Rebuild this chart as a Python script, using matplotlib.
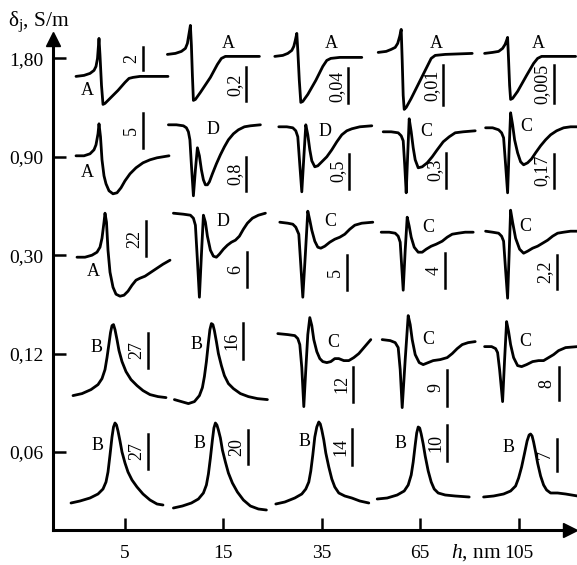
"""
Line shapes on a conductivity / film thickness grid.
"""

import matplotlib.pyplot as plt


plt.rcParams["font.family"] = "Liberation Serif"
plt.rcParams["mathtext.fontset"] = "custom"
plt.rcParams["mathtext.rm"] = "Liberation Serif"
plt.rcParams["mathtext.it"] = "Liberation Serif:italic"

THICKNESS = ["5", "15", "35", "65", "105"]
CONDUCTIVITY = ["1,80", "0,90", "0,30", "0,12", "0,06"]  # top row first

LINE_TYPE = [
    ["A", "A", "A", "A", "A"],
    ["A", "D", "D", "C", "C"],
    ["A", "D", "C", "C", "C"],
    ["B", "B", "C", "C", "C"],
    ["B", "B", "B", "B", "B"],
]

SCALE = [
    ["2", "0,2", "0,04", "0,01", "0,005"],
    ["5", "0,8", "0,5", "0,3", "0,17"],
    ["22", "6", "5", "4", "2,2"],
    ["27", "16", "12", "9", "8"],
    ["27", "20", "14", "10", "7"],
]

# traces: (x, y) offsets in px from the grid node, y up
ROW_180 = [
    ([-49, -41, -35, -31, -29, -27.5, -26, -25, -23.5, -22, -20, -15, -7, 0, 4, 8, 15, 43],
     [-18, -17, -15, -12, -8, 0, 20, 3, -27, -46, -45, -40, -32, -24, -20, -19, -18, -18]),
    ([-56, -48, -42, -38, -36, -34.5, -33, -32, -31, -30, -28, -23, -13, -6, -2, 2, 12, 36],
     [4, 5, 7, 10, 15, 24, 33, 13, -17, -42, -41, -34, -19, -6, 0, 2, 2, 2]),
    ([-47, -39, -34, -30, -28, -26.5, -25, -24, -22.5, -21, -19, -14, -6, 1, 5, 9, 18, 40],
     [2, 3, 5, 8, 12, 18, 25, 8, -22, -44, -43, -36, -22, -8, -2, 0, 1, 1]),
    ([-42, -34, -29, -25, -22.5, -20.5, -19, -18, -17, -16, -14, -9, 0, 7, 11, 15, 25, 52],
     [6, 7, 9, 11, 15, 22, 29, -2, -37, -51, -49, -40, -22, -8, 0, 3, 4, 5]),
    ([-34, -26, -20, -16, -13.5, -12, -11, -10, -9, -8, -6, -1, 8, 15, 19, 23, 32, 57],
     [5, 6, 7, 10, 14, 18, 21, -2, -27, -41, -40, -33, -17, -5, 0, 2, 2, 2]),
]

ROW_090 = [
    ([-49, -41, -35, -31, -29, -27, -26, -24.5, -23, -21, -19, -16, -12, -8, -4, 0,
      5, 11, 18, 25, 32, 38, 44],
     [1, 1, 3, 7, 12, 23, 33, 20, -3, -19, -27, -34, -37, -36, -31, -24,
      -17, -11, -6, -3, -1, 0, 1]),
    ([-55, -47, -40, -37, -35, -33.5, -32, -30, -28, -26, -24, -22, -20, -18, -16, -14,
      -11, -7, -3, 1, 5, 10, 15, 21, 27, 37],
     [32, 32, 31, 29, 25, 17, -8, -39, -13, 9, 1, -13, -23, -28, -28, -25,
      -17, -7, 2, 10, 17, 23, 27, 30, 31, 32]),
    ([-43, -35, -29, -26, -24, -22, -20, -18, -16, -14, -12, -10, -7, -4, 0, 5,
      10, 15, 20, 25, 30, 38, 50],
     [30, 30, 29, 26, 20, -8, -35, -1, 32, 22, 7, -4, -10, -9, -5, 0,
      7, 15, 22, 26, 28, 30, 31]),
    ([-37, -29, -22, -19, -17, -15.5, -14, -12.5, -11, -9, -7, -5, -2, 2, 7, 12,
      17, 23, 29, 35, 43, 55],
     [25, 25, 24, 21, 16, -8, -36, 2, 38, 25, 9, -3, -11, -10, -6, 0,
      7, 15, 20, 24, 25, 26]),
    ([-33, -26, -20, -17, -15, -13, -11, -9.5, -8, -6, -4, -1, 2, 5, 9, 13,
      17, 22, 27, 32, 38, 45, 52, 59],
     [29, 29, 27, 24, 19, -8, -36, 7, 44, 32, 17, 4, -5, -8, -6, -2,
      4, 11, 17, 22, 26, 29, 30, 30]),
]

ROW_030 = [
    ([-48, -40, -33, -28, -25, -23, -21, -20, -18.5, -17, -15, -12, -9, -5, -1, 3,
      7, 11, 15, 20, 26, 32, 38, 45],
     [-2, -2, 0, 3, 8, 17, 33, 42, 33, 5, -17, -32, -39, -41, -40, -36,
      -30, -25, -23, -21, -17, -13, -9, -5]),
    ([-50, -40, -33, -30, -28, -26, -24, -22, -20, -18, -16, -13, -10, -7, -4, 0,
      4, 8, 12, 16, 20, 24, 29, 35, 42],
     [42, 41, 40, 37, 30, -5, -42, 0, 40, 33, 19, 5, -1, -2, 1, 6,
      10, 13, 15, 19, 26, 32, 37, 40, 42]),
    ([-42, -34, -29, -26, -23, -21, -19, -16.5, -14, -12, -10, -7, -4, -1, 3, 8,
      13, 18, 23, 28, 33, 40, 51],
     [33, 32, 31, 28, 21, -10, -42, 0, 44, 35, 25, 14, 8, 7, 9, 13,
      16, 18, 21, 26, 30, 32, 33]),
    ([-39, -31, -25, -22, -20, -17, -15, -13, -11, -9, -6, -2, 2, 6, 11, 16,
      22, 27, 32, 38, 45, 53],
     [23, 23, 22, 19, 13, -35, 5, 38, 29, 18, 8, 3, 3, 6, 9, 11,
      14, 18, 21, 22, 23, 23]),
    ([-33, -26, -20, -17, -15, -13, -11, -9.5, -8, -6, -3, 1, 5, 9, 14, 19,
      24, 29, 34, 39, 45, 52, 59],
     [24, 23, 22, 19, 14, -15, -43, 0, 45, 33, 17, 6, 2, 4, 7, 9,
      12, 15, 19, 22, 23, 24, 24]),
]

ROW_012 = [
    ([-52, -43, -34, -27, -23, -20, -18, -16, -14.5, -13, -11.5, -10, -8, -6, -3, 1,
      6, 12, 18, 25, 33, 41],
     [-42, -40, -36, -31, -25, -16, -4, 10, 21, 28, 29, 24, 14, 3, -8, -18,
      -26, -32, -37, -41, -43, -44]),
    ([-49, -42, -35, -29, -24, -21, -19, -17, -15, -13.5, -12, -10.5, -9, -7, -5, -2,
      1, 5, 10, 17, 25, 34, 44],
     [-46, -48, -50, -48, -42, -34, -23, -8, 11, 24, 30, 29, 23, 12, 0, -12,
      -22, -30, -35, -40, -43, -45, -46]),
    ([-44, -34, -27, -24, -22, -20, -18, -16, -14, -12, -10, -8, -5, -2, 1, 5,
      9, 13, 17, 22, 27, 32, 37, 43, 49],
     [20, 19, 18, 15, 9, -14, -53, -16, 19, 36, 28, 14, 2, -5, -8, -9,
      -8, -5, -5, -7, -7, -4, 0, 7, 14]),
    ([-38, -30, -25, -22, -20, -18, -15, -12, -10, -8, -5, -1, 3, 8, 13, 20,
      27, 32, 37, 42, 48, 55],
     [14, 13, 11, 6, -16, -54, -6, 38, 29, 14, -1, -9, -11, -9, -7, -6,
      -4, 0, 5, 9, 11, 12]),
    ([-34, -27, -23, -21, -19, -16, -14, -12, -10, -8, -5, -1, 3, 8, 14, 20,
      25, 30, 35, 40, 47, 59],
     [7, 7, 5, 1, -16, -48, -6, 32, 22, 9, -4, -12, -13, -11, -8, -7,
      -7, -4, -1, 3, 6, 7]),
]

ROW_006 = [
    ([-54, -45, -35, -27, -22, -19, -17, -15, -13, -11.5, -10, -8.5, -7, -5, -3, 0,
      3, 7, 12, 18, 25, 32, 38],
     [-51, -49, -46, -42, -37, -30, -20, -3, 15, 25, 29, 27, 21, 11, 0, -11,
      -20, -28, -35, -42, -48, -52, -53]),
    ([-50, -41, -32, -25, -20, -17, -15, -13, -11, -9.5, -8, -6.5, -5, -3, -1, 2,
      5, 9, 14, 20, 27, 35, 43],
     [-56, -54, -51, -47, -41, -33, -22, -6, 12, 24, 29, 27, 22, 14, 2, -10,
      -21, -31, -40, -48, -54, -57, -58]),
    ([-46, -37, -27, -20, -16, -13, -11, -9, -7, -5, -3, -1.5, 0, 2, 4, 7,
      10, 13, 17, 23, 30, 38, 47],
     [-52, -50, -46, -42, -37, -30, -19, -3, 15, 25, 30, 28, 22, 12, -1, -15,
      -27, -35, -41, -44, -46, -49, -51]),
    ([-43, -33, -23, -16, -12, -9, -7, -5, -3.5, -2, -0.5, 1, 3, 5, 8, 11,
      14, 18, 25, 35, 49],
     [-47, -46, -43, -39, -33, -23, -10, 7, 19, 25, 24, 18, 8, -4, -19, -30,
      -37, -41, -43, -44, -45]),
    ([-35, -25, -15, -8, -3, 0, 3, 6, 8.5, 10.5, 12, 13.5, 15, 17, 19, 22,
      25, 28, 32, 39, 47, 59],
     [-45, -44, -42, -39, -34, -26, -15, -1, 11, 17, 18, 16, 10, 0, -11, -24,
      -33, -38, -41, -41, -42, -44]),
]

ROWS = [ROW_180, ROW_090, ROW_030, ROW_012, ROW_006]

# layout: letter (dx, dy) and scale bar (dx, top, bottom), px from the node
LETTER_POS = [
    [(-38, -32), (5, 15), (10, 15), (16, 15), (20, 15)],
    [(-38, -16), (-10, 27), (3, 25), (6, 25), (8, 30)],
    [(-32, -16), (0, 34), (8, 34), (8, 28), (7, 29)],
    [(-28, 6), (-27, 9), (11, 11), (8, 14), (7, 12)],
    [(-27, 7), (-24, 9), (-17, 10), (-20, 9), (-10, 4)],
]

BAR_POS = [
    [(18, 11, -12), (23, -9, -43), (26, -10, -45), (23, -7, -47), (35, -7, -45)],
    [(18, 44, 9), (23, 0, -34), (27, 3, -32), (26, 4, -31), (35, 3, -31)],
    [(21, 34, -1), (24, 3, -32), (25, 0, -35), (25, 2, -33), (38, 0, -34)],
    [(23, 21, -14), (20, 31, -5), (31, -13, -48), (27, -16, -52), (40, -13, -46)],
    [(23, 18, -17), (25, 22, -12), (30, 23, -13), (27, 27, -9), (38, 13, -19)],
]

PX = 98.4  # pixels per grid step


def setup_axes(fig):
    """
    Axes with arrowed left/bottom spines and inward ticks.
    """

    ax = fig.add_axes([53 / 577, 35 / 565, 517 / 577, 491.5 / 565])

    ax.set_xlim(-72 / PX, 445 / PX)
    ax.set_ylim(-78 / PX, 413.5 / PX)

    ax.set_xticks(range(len(THICKNESS)), THICKNESS)
    ax.set_yticks(range(len(CONDUCTIVITY)), CONDUCTIVITY[::-1])

    for side in ["top", "right"]:
        ax.spines[side].set_visible(False)
    for side in ["left", "bottom"]:
        ax.spines[side].set_linewidth(2.2)

    ax.tick_params(
        direction="in",
        length=9,
        width=1.8,
        labelsize=14,
    )
    ax.tick_params(axis="y", pad=7)
    ax.tick_params(axis="x", pad=11)

    ax.plot(1, 0, ">k", ms=9.5, transform=ax.transAxes, clip_on=False)
    ax.plot(0, 1, "^k", ms=9.5, transform=ax.transAxes, clip_on=False)

    ax.set_ylabel(
        "δ$_\\mathrm{j}$, S/m",
        rotation=0,
        ha="left",
        va="baseline",
        fontsize=15.5,
    )
    ax.yaxis.set_label_coords(-45 / 517, (530 - 26) / 491.5)

    ax.set_xlabel(
        "$h$, nm",
        ha="right",
        va="baseline",
        fontsize=15.5,
    )
    ax.xaxis.set_label_coords((502 - 53) / 517, (530 - 558) / 491.5)

    return ax


def draw_cells(ax):
    """
    Trace, letter and scale bar for every grid node.
    """

    n_rows = len(ROWS)

    for r, row in enumerate(ROWS):
        y0 = n_rows - 1 - r

        for c, (xs, ys) in enumerate(row):
            ax.plot(
                [c + x / PX for x in xs],
                [y0 + y / PX for y in ys],
                color="black",
                linewidth=2.0,
                solid_joinstyle="round",
                solid_capstyle="round",
                clip_on=False,
            )

            dx, dy = LETTER_POS[r][c]
            ax.text(
                c + dx / PX,
                y0 + dy / PX,
                LINE_TYPE[r][c],
                ha="center",
                va="center",
                fontsize=13,
            )

            bx, top, bottom = BAR_POS[r][c]
            ax.plot(
                [c + bx / PX, c + bx / PX],
                [y0 + top / PX, y0 + bottom / PX],
                color="black",
                linewidth=1.8,
                clip_on=False,
            )
            ax.annotate(
                SCALE[r][c],
                xy=(c + bx / PX, y0 + (top + bottom) / 2 / PX),
                xytext=(-2, 0),
                textcoords="offset points",
                rotation=90,
                ha="right",
                va="center",
                fontsize=13,
            )


def main():
    fig = plt.figure(figsize=(5.77, 5.65), dpi=100)

    ax = setup_axes(fig)

    draw_cells(ax)

    fig.savefig("out.png", dpi=100)


if __name__ == "__main__":
    main()
